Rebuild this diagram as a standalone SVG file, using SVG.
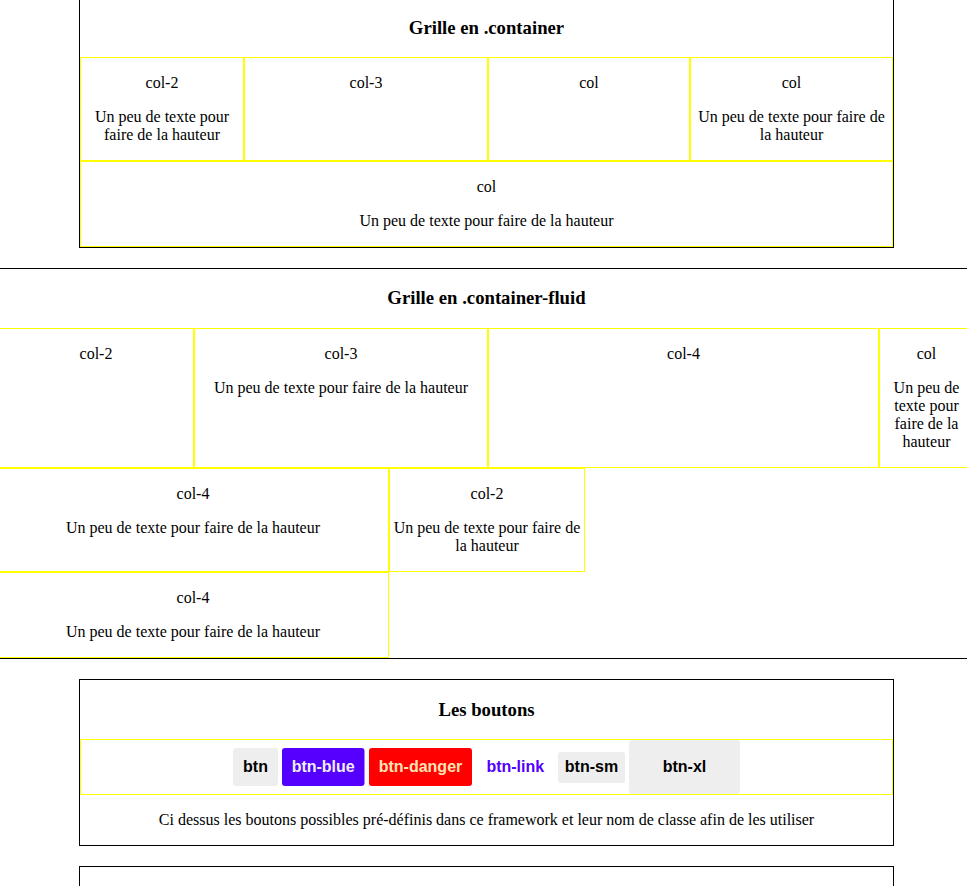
<svg xmlns="http://www.w3.org/2000/svg" width="967" height="886" viewBox="0 0 967 886">
<style>
.t{font-family:"Liberation Serif","Times New Roman",serif;font-size:16px;fill:#000;text-anchor:middle}
.h{font-family:"Liberation Serif","Times New Roman",serif;font-size:18.72px;font-weight:bold;fill:#000;text-anchor:middle}
.b{font-family:"Liberation Sans",Arial,sans-serif;font-size:16px;font-weight:bold;text-anchor:middle}
.box{fill:none;stroke:#000;stroke-width:1;shape-rendering:crispEdges}
.cell{fill:none;stroke:#ffff00;stroke-width:1;shape-rendering:crispEdges}
</style>
<rect width="967" height="886" fill="#fff"/>

<g id="container">
<rect class="box" x="79.5" y="-1.5" width="814" height="249"/>
<text class="h" x="486.5" y="34">Grille en .container</text>
<g id="c1"><rect class="cell" x="80.5" y="57.5" width="163" height="103"/>
<text class="t" x="162" y="88.4">col-2</text>
<text class="t" x="162" y="122.4">Un peu de texte pour</text>
<text class="t" x="162" y="140.4">faire de la hauteur</text></g>
<g id="c2"><rect class="cell" x="244.5" y="57.5" width="243" height="103"/>
<text class="t" x="366" y="88.4">col-3</text></g>
<g id="c3"><rect class="cell" x="488.5" y="57.5" width="201" height="103"/>
<text class="t" x="589" y="88.4">col</text></g>
<g id="c4"><rect class="cell" x="690.5" y="57.5" width="202" height="103"/>
<text class="t" x="791.5" y="88.4">col</text>
<text class="t" x="791.5" y="122.4">Un peu de texte pour faire de</text>
<text class="t" x="791.5" y="140.4">la hauteur</text></g>
<g id="c5"><rect class="cell" x="80.5" y="161.5" width="812" height="85"/>
<text class="t" x="486.5" y="192.4">col</text>
<text class="t" x="486.5" y="226.4">Un peu de texte pour faire de la hauteur</text></g>
</g>

<g id="fluid">
<rect x="0" y="268" width="967" height="1" fill="#000"/>
<text class="h" x="486.5" y="304">Grille en .container-fluid</text>
<g id="f1"><rect class="cell" x="-1.5" y="328.5" width="195" height="139"/>
<text class="t" x="96" y="359.4">col-2</text></g>
<g id="f2"><rect class="cell" x="194.5" y="328.5" width="293" height="139"/>
<text class="t" x="341" y="359.4">col-3</text>
<text class="t" x="341" y="393.4">Un peu de texte pour faire de la hauteur</text></g>
<g id="f3"><rect class="cell" x="488.5" y="328.5" width="390" height="139"/>
<text class="t" x="683.5" y="359.4">col-4</text></g>
<g id="f4"><rect class="cell" x="879.5" y="328.5" width="95" height="139"/>
<text class="t" x="926.5" y="359.4">col</text>
<text class="t" x="926.5" y="393.4">Un peu de</text>
<text class="t" x="926.5" y="411.4">texte pour</text>
<text class="t" x="926.5" y="429.4">faire de la</text>
<text class="t" x="926.5" y="447.4">hauteur</text></g>
<g id="f5"><rect class="cell" x="-2.5" y="468.5" width="391" height="103"/>
<text class="t" x="193" y="499">col-4</text>
<text class="t" x="193" y="533">Un peu de texte pour faire de la hauteur</text></g>
<g id="f6"><rect class="cell" x="389.5" y="468.5" width="195" height="103"/>
<text class="t" x="487" y="499">col-2</text>
<text class="t" x="487" y="533">Un peu de texte pour faire de</text>
<text class="t" x="487" y="551">la hauteur</text></g>
<g id="f7"><rect class="cell" x="-2.5" y="572.5" width="391" height="85"/>
<text class="t" x="193" y="603.4">col-4</text>
<text class="t" x="193" y="637.4">Un peu de texte pour faire de la hauteur</text></g>
<rect x="0" y="658" width="967" height="1" fill="#000"/>
</g>

<g id="buttons">
<rect class="box" x="79.5" y="679.5" width="814" height="166"/>
<text class="h" x="486.5" y="716">Les boutons</text>
<rect class="cell" x="80.5" y="739.5" width="812" height="55"/>
<g id="btn"><rect x="233" y="748" width="45" height="38" rx="3" fill="#eeeeee"/>
<text class="b" x="255.5" y="772" fill="#000">btn</text></g>
<g id="btn-blue"><rect x="282" y="748" width="82.5" height="38" rx="3" fill="#5500ff"/>
<text class="b" x="323.2" y="772" fill="#eeeeee">btn-blue</text></g>
<g id="btn-danger"><rect x="369" y="748" width="103" height="38" rx="3" fill="#ff0000"/>
<text class="b" x="420.5" y="772" fill="#ffe4b5">btn-danger</text></g>
<g id="btn-link"><text class="b" x="515.3" y="772" fill="#5500ff">btn-link</text></g>
<g id="btn-sm"><rect x="558" y="752" width="67" height="31" rx="3" fill="#eeeeee"/>
<text class="b" x="591.5" y="772" fill="#000">btn-sm</text></g>
<g id="btn-xl"><rect x="629" y="740" width="111" height="54" rx="3" fill="#eeeeee"/>
<text class="b" x="684.5" y="772" fill="#000">btn-xl</text></g>
<text class="t" x="486.5" y="825">Ci dessus les boutons possibles pré-définis dans ce framework et leur nom de classe afin de les utiliser</text>
</g>

<g id="next">
<rect class="box" x="79.5" y="866.5" width="814" height="40"/>
</g>
<g id="connectors"/>
</svg>
